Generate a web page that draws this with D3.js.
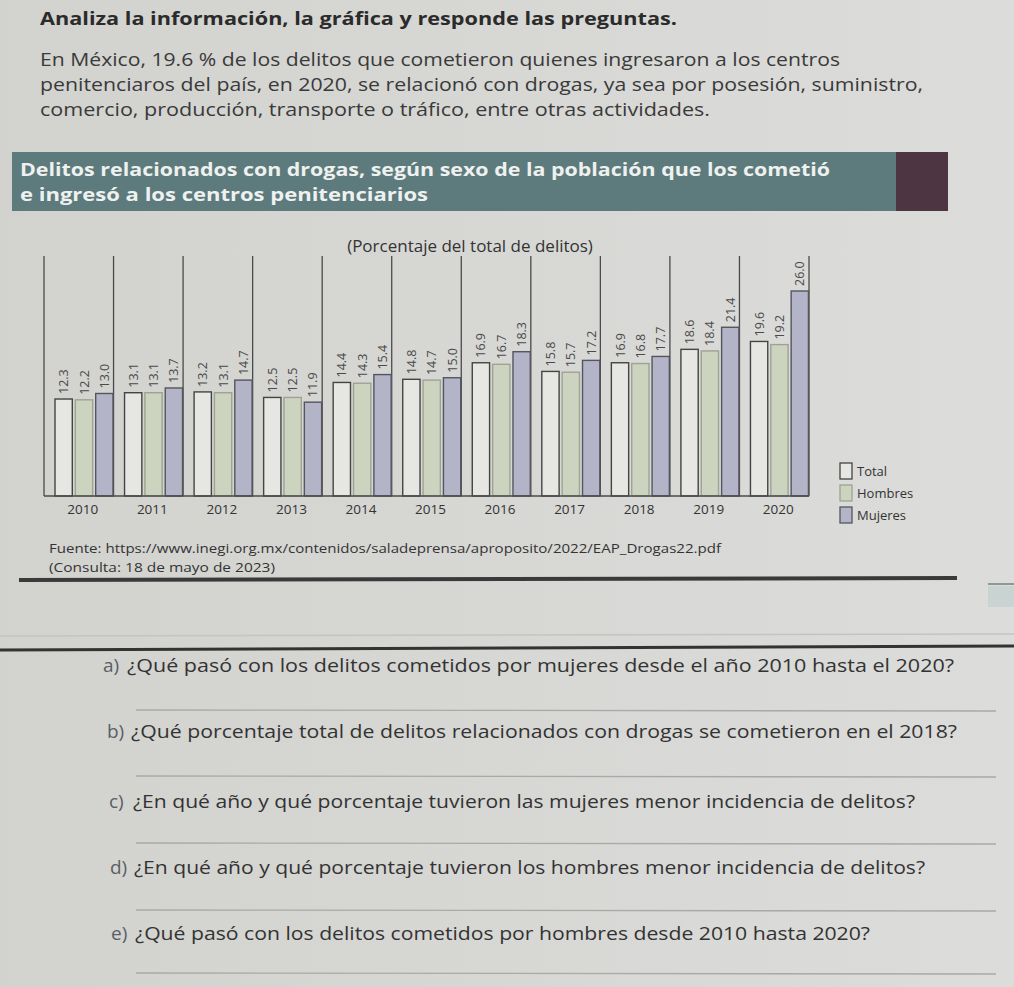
<!DOCTYPE html>
<html>
<head>
<meta charset="utf-8">
<script src="https://cdn.jsdelivr.net/npm/d3@7"></script>
<style>
  html, body { margin: 0; padding: 0; background: #d6d6d3; }
  svg { display: block; }
  text { font-family: "Open Sans", "Lato", "DejaVu Sans", sans-serif; }
</style>
</head>
<body>
<svg id="chart" width="1014" height="987"></svg>
<script>
// ---- data ----
const years = ["2010","2011","2012","2013","2014","2015","2016","2017","2018","2019","2020"];
const series = ["Total","Hombres","Mujeres"];
const total   = [12.3, 13.1, 13.2, 12.5, 14.4, 14.8, 16.9, 15.8, 16.9, 18.6, 19.6];
const hombres = [12.2, 13.1, 13.1, 12.5, 14.3, 14.7, 16.7, 15.7, 16.8, 18.4, 19.2];
const mujeres = [13.0, 13.7, 14.7, 11.9, 15.4, 15.0, 18.3, 17.2, 17.7, 21.4, 26.0];

const headingText = "Analiza la información, la gráfica y responde las preguntas.";
const introLines = [
  "En México, 19.6 % de los delitos que cometieron quienes ingresaron a los centros",
  "penitenciaros del país, en 2020, se relacionó con drogas, ya sea por posesión, suministro,",
  "comercio, producción, transporte o tráfico, entre otras actividades."
];
const titleLines = [
  "Delitos relacionados con drogas, según sexo de la población que los cometió",
  "e ingresó a los centros penitenciarios"
];
const subtitle = "(Porcentaje del total de delitos)";
const sourceLines = [
  "Fuente: https://www.inegi.org.mx/contenidos/saladeprensa/aproposito/2022/EAP_Drogas22.pdf",
  "(Consulta: 18 de mayo de 2023)"
];
const questionLabels = ["a)","b)","c)","d)","e)"];
const questions = [
  "¿Qué pasó con los delitos cometidos por mujeres desde el año 2010 hasta el 2020?",
  "¿Qué porcentaje total de delitos relacionados con drogas se cometieron en el 2018?",
  "¿En qué año y qué porcentaje tuvieron las mujeres menor incidencia de delitos?",
  "¿En qué año y qué porcentaje tuvieron los hombres menor incidencia de delitos?",
  "¿Qué pasó con los delitos cometidos por hombres desde 2010 hasta 2020?"
];

const valuesBySeries = { Total: total, Hombres: hombres, Mujeres: mujeres };
const fills   = { Total: "#e6e7e2", Hombres: "#ccd3bf", Mujeres: "#b3b4c8" };
const strokes = { Total: "#444444", Hombres: "#9ea393", Mujeres: "#55555f" };

const svg = d3.select("#chart");

// background paper
const defs = svg.append("defs");
const grad = defs.append("linearGradient").attr("id","paper").attr("x1","0").attr("x2","1").attr("y1","0").attr("y2","0");
grad.append("stop").attr("offset","0").attr("stop-color","#d2d2cf");
grad.append("stop").attr("offset","1").attr("stop-color","#dcdcda");
svg.append("rect").attr("width",1014).attr("height",987).attr("fill","url(#paper)");

// heading
svg.append("text").attr("x", 40).attr("y", 25)
  .attr("font-size", 17).attr("font-weight", "bold").attr("fill", "#2b2b2b")
  .attr("textLength", 637).attr("lengthAdjust","spacingAndGlyphs")
  .text(headingText);

// intro paragraph
const introW = [800, 883, 670];
svg.selectAll("text.intro").data(introLines).join("text").attr("class","intro")
  .attr("x", 40).attr("y", (d,i) => 66 + i*25)
  .attr("font-size", 18.5).attr("fill", "#3a3a3a")
  .attr("textLength", (d,i) => introW[i]).attr("lengthAdjust","spacingAndGlyphs")
  .text(d => d);

// title band
svg.append("rect").attr("x", 12).attr("y", 152).attr("width", 886).attr("height", 59).attr("fill", "#5d7b7c");
svg.append("rect").attr("x", 896).attr("y", 152).attr("width", 52).attr("height", 59).attr("fill", "#4d3642");
const titleW = [810, 408];
svg.selectAll("text.title").data(titleLines).join("text").attr("class","title")
  .attr("x", 20).attr("y", (d,i) => 176 + i*25)
  .attr("font-size", 17.5).attr("font-weight","bold").attr("fill", "#eef1ef")
  .attr("textLength", (d,i) => titleW[i]).attr("lengthAdjust","spacingAndGlyphs")
  .text(d => d);

// subtitle
svg.append("text").attr("x", 470).attr("y", 252).attr("text-anchor","middle")
  .attr("font-size", 17).attr("fill", "#333").text(subtitle);

// scales
const x = d3.scaleBand().domain(years).range([44, 809]);
const xs = d3.scaleBand().domain(series).range([11, 69]).paddingInner(0.15);
const y = d3.scaleLinear().domain([0, 26]).range([496, 291]);

// separators
const sepX = years.map(d => x(d)).concat([x(years[years.length-1]) + x.bandwidth()]);
svg.selectAll("line.sep").data(sepX).join("line").attr("class","sep")
  .attr("x1", d => d).attr("x2", d => d).attr("y1", 256).attr("y2", y(0))
  .attr("stroke", "#4a4a4a").attr("stroke-width", 1.3);

// bars
const groups = svg.selectAll("g.year").data(years).join("g").attr("class","year")
  .attr("transform", d => `translate(${x(d)},0)`);

groups.selectAll("rect").data((d,i) => series.map(s => ({s, v: valuesBySeries[s][i]}))).join("rect")
  .attr("x", d => xs(d.s)).attr("width", xs.bandwidth())
  .attr("y", d => y(d.v)).attr("height", d => y(0) - y(d.v))
  .attr("fill", d => fills[d.s]).attr("stroke", d => strokes[d.s]).attr("stroke-width", 1.4);

groups.selectAll("text.val").data((d,i) => series.map(s => ({s, v: valuesBySeries[s][i]}))).join("text")
  .attr("class","val")
  .attr("transform", d => `translate(${xs(d.s) + xs.bandwidth()/2 + 4.5},${y(d.v) - 5}) rotate(-90)`)
  .attr("font-size", 12.5).attr("fill", "#4a4a4a")
  .text(d => d3.format(".1f")(d.v));

// baseline
svg.append("line").attr("x1", 44).attr("x2", 809).attr("y1", y(0)).attr("y2", y(0))
  .attr("stroke", "#4a4a4a").attr("stroke-width", 1.5);

// x axis labels
const xAxis = d3.axisBottom(x).tickSize(0).tickPadding(0)
  .tickFormat(d => d);
const axG = svg.append("g").attr("transform", `translate(4,${y(0) + 6})`).call(xAxis);
axG.select(".domain").remove();
axG.selectAll("text").attr("font-size", 13.5).attr("fill", "#333")
  .attr("font-family", "'Open Sans', sans-serif").attr("dy", "0.9em");

// legend
const leg = svg.append("g").attr("transform", "translate(840,463)");
const legItems = leg.selectAll("g").data(series).join("g").attr("transform", (d,i) => `translate(0,${i*22})`);
legItems.append("rect").attr("width", 12).attr("height", 16)
  .attr("fill", d => fills[d]).attr("stroke", d => strokes[d]).attr("stroke-width", 1.3);
legItems.append("text").attr("x", 17).attr("y", 13).attr("font-size", 13).attr("fill", "#333").text(d => d);

// source
svg.selectAll("text.src").data(sourceLines).join("text").attr("class","src")
  .attr("x", 49).attr("y", (d,i) => 553 + i*19)
  .attr("font-size", 12).attr("fill", "#333")
  .attr("textLength", (d,i) => i === 0 ? 672 : 226).attr("lengthAdjust","spacingAndGlyphs")
  .text(d => d);

// separating rules
svg.append("line").attr("x1", 19).attr("x2", 957).attr("y1", 580).attr("y2", 578)
  .attr("stroke", "#3a3a3a").attr("stroke-width", 4);
svg.append("line").attr("x1", 988).attr("x2", 1014).attr("y1", 584).attr("y2", 584)
  .attr("stroke", "#8a9a98").attr("stroke-width", 2);
svg.append("rect").attr("x", 988).attr("y", 586).attr("width", 26).attr("height", 21).attr("fill", "#c9d3d1");
svg.append("line").attr("x1", 0).attr("x2", 1014).attr("y1", 636).attr("y2", 634)
  .attr("stroke", "#c4c4c2").attr("stroke-width", 1.5);
svg.append("line").attr("x1", 0).attr("x2", 1014).attr("y1", 650).attr("y2", 646)
  .attr("stroke", "#333").attr("stroke-width", 3);

// questions
const qY = [672, 738, 808, 874, 940];
const qStart = [103, 107, 109, 110, 111];
const qEnd = [954, 957, 915, 925, 870];
const lineY = [710, 776, 843, 910, 973];
questions.forEach((q, i) => {
  svg.append("text").attr("x", qStart[i]).attr("y", qY[i]).attr("font-size", 19).attr("fill", "#5a5f66")
    .text(questionLabels[i]);
  svg.append("text").attr("x", qStart[i] + 24).attr("y", qY[i]).attr("font-size", 19).attr("fill", "#333")
    .attr("textLength", qEnd[i] - qStart[i] - 24).attr("lengthAdjust","spacingAndGlyphs")
    .text(q);
  svg.append("line").attr("x1", 136).attr("x2", 996).attr("y1", lineY[i]).attr("y2", lineY[i] + 1)
    .attr("stroke", "#a9a9a7").attr("stroke-width", 1.3);
});
</script>
</body>
</html>
